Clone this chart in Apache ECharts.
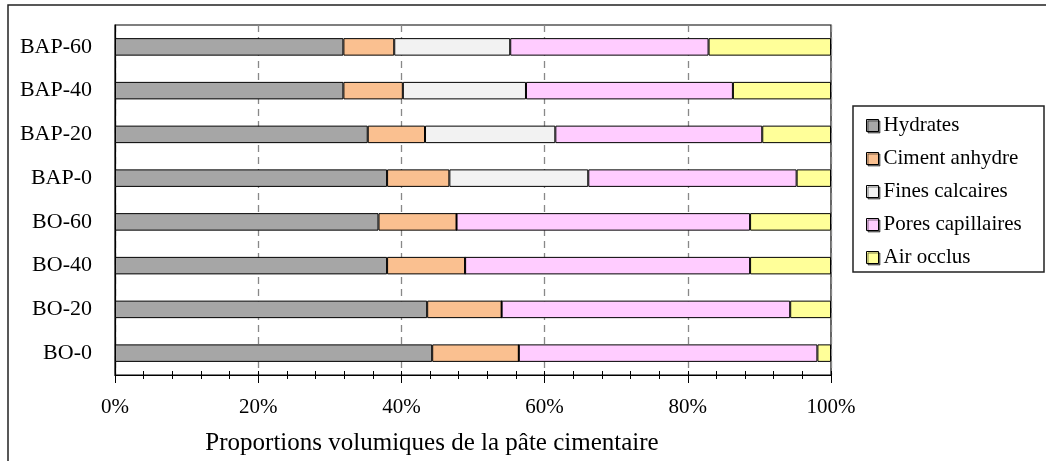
<!DOCTYPE html>
<html>
<head>
<meta charset="utf-8">
<script src="https://cdn.jsdelivr.net/npm/echarts@6/dist/echarts.min.js"></script>
<style>html,body{margin:0;padding:0;background:#fff;}#c{width:1046px;height:461px;}</style>
</head>
<body>
<div id="c"></div>
<script>
// categories listed bottom to top
const categories = ['BO-0','BO-20','BO-40','BO-60','BAP-0','BAP-20','BAP-40','BAP-60'];
const hydrates       = [44.3, 43.6, 38.0, 36.8, 38.0, 35.3, 31.9, 31.9];
const cimentAnhydre  = [12.1, 10.4, 10.9, 10.9,  8.7,  8.0,  8.3,  7.1];
const finesCalcaires = [ 0.0,  0.0,  0.0,  0.0, 19.4, 18.2, 17.2, 16.2];
const poresCap       = [41.7, 40.3, 39.8, 41.0, 29.1, 28.9, 28.9, 27.7];
const airOcclus      = [ 1.9,  5.7, 11.3, 11.3,  4.8,  9.6, 13.7, 17.1];
const xTicks = [0, 20, 40, 60, 80, 100];
const seriesNames = ['Hydrates','Ciment anhydre','Fines calcaires','Pores capillaires','Air occlus'];
const seriesColors = ['#A6A6A6','#FAC090','#F2F2F2','#FFCCFF','#FFFF99'];
const seriesData = [hydrates, cimentAnhydre, finesCalcaires, poresCap, airOcclus];

const FONT = 'Liberation Serif';
const chart = echarts.init(document.getElementById('c'), null, {renderer:'canvas'});
const option = {
  animation: false,
  textStyle: {fontFamily: FONT, color: '#000'},
  graphic: [
    {type:'rect', shape:{x:8, y:5, width:1100, height:500}, style:{fill:'none', stroke:'#222', lineWidth:1.5}, z:-1},
    {type:'rect', shape:{x:853, y:106, width:191, height:166}, style:{fill:'#fff', stroke:'#222', lineWidth:1.5}, z:1}
  ],
  legend: {
    orient: 'vertical',
    left: 861,
    top: 110,
    itemWidth: 12,
    itemHeight: 12,
    itemGap: 12,
    icon: 'rect',
    z: 5,
    textStyle: {fontFamily: FONT, fontSize: 21, color:'#000'},
    data: seriesNames.map((n,i)=>({name:n, itemStyle:{color:seriesColors[i], borderColor:'#000', borderWidth:1, shadowColor:'rgba(0,0,0,0.5)', shadowOffsetX:1.5, shadowOffsetY:1.5}}))
  },
  grid: {left: 115, top: 25, width: 716, height: 350, show: true, borderColor: '#000', borderWidth: 1.2, backgroundColor:'transparent'},
  xAxis: [{
    type: 'value', min: 0, max: 100, interval: 20,
    axisLine: {show:true, lineStyle:{color:'#000', width:1.2}},
    axisTick: {show:true, length:8, lineStyle:{color:'#000'}},
    minorTick: {show:true, splitNumber:5, length:4, lineStyle:{color:'#000'}},
    axisLabel: {formatter: v => xTicks.includes(v) ? v + '%' : '', fontFamily: FONT, fontSize: 21, color:'#000', margin: 22},
    splitLine: {show:true, lineStyle:{color:'#888', type:[7,5], width:1.3}},
    name: 'Proportions volumiques de la pâte cimentaire',
    nameLocation: 'middle', nameGap: 56,
    nameTextStyle: {fontFamily: FONT, fontSize: 25, color:'#000', padding:[0,0,0,-82]}
  },{
    type: 'value', min: 0, max: 100, interval: 20, position:'bottom',
    axisLine: {show:false},
    axisTick: {show:true, inside:true, length:4, lineStyle:{color:'#000'}},
    minorTick: {show:true, splitNumber:5, length:4, lineStyle:{color:'#000'}},
    axisLabel: {show:false}, splitLine:{show:false}
  }],
  yAxis: {
    type: 'category', data: categories,
    axisLine: {show:true, lineStyle:{color:'#000', width:1.2}},
    axisTick: {show:false},
    axisLabel: {fontFamily: FONT, fontSize: 22, color:'#000', margin: 23}
  },
  series: seriesNames.map((n,i)=>({
    name: n, type: 'bar', stack: 'total', barWidth: '40%',
    itemStyle: {color: seriesColors[i], borderColor:'#000', borderWidth:1},
    data: seriesData[i]
  }))
};
chart.setOption(option);
</script>
</body>
</html>
